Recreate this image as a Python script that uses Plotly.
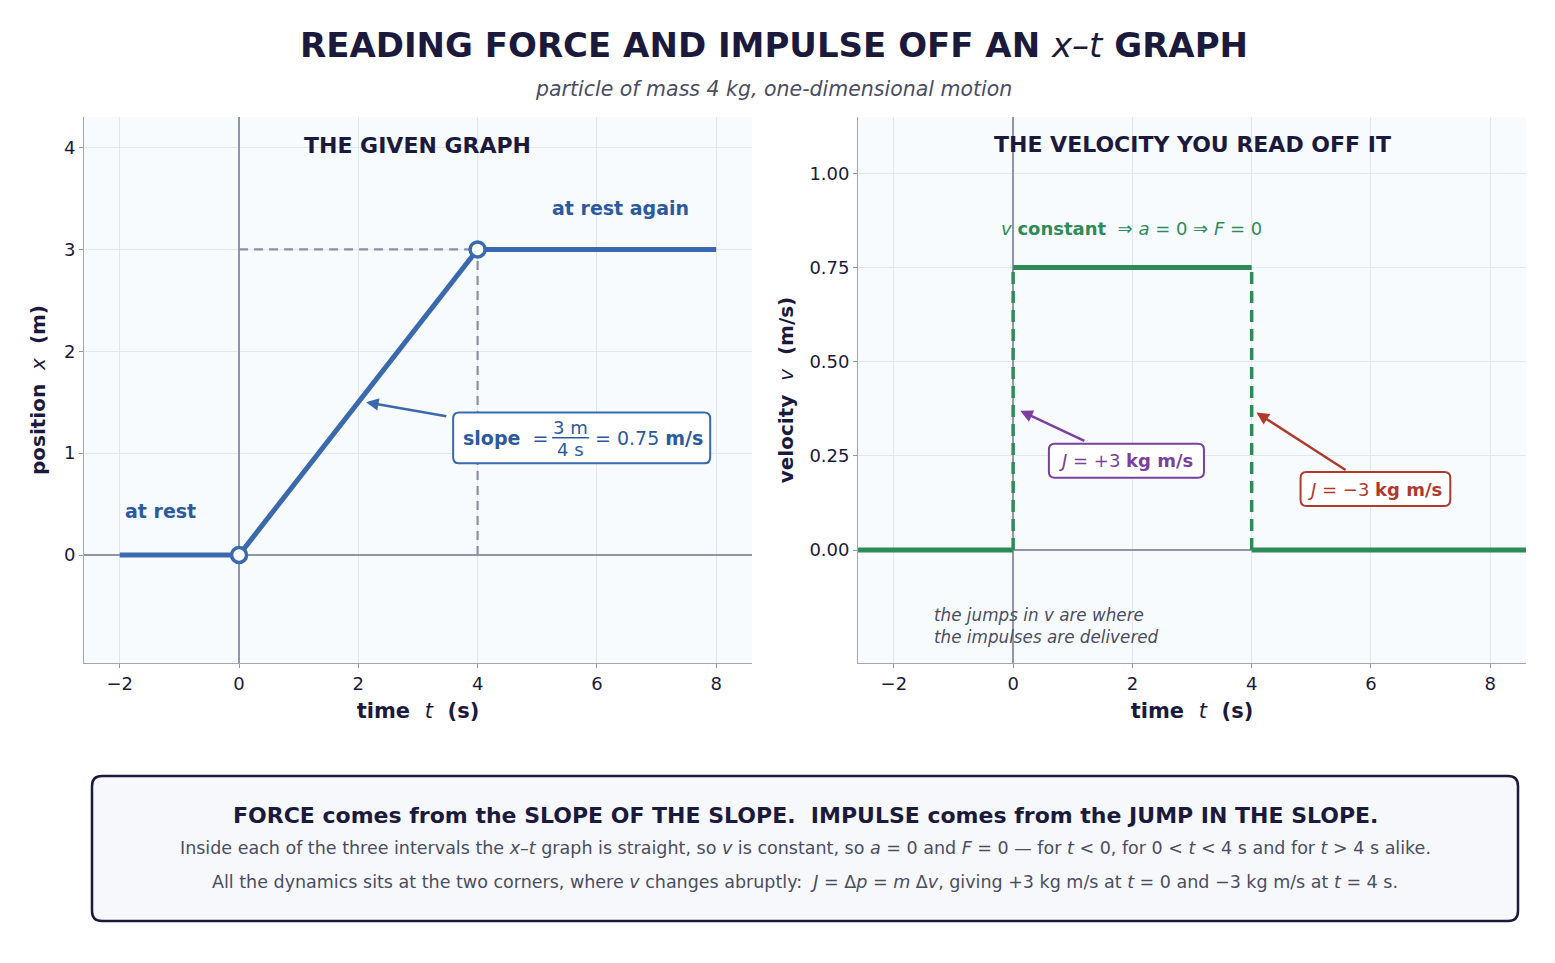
import plotly.graph_objects as go

# position-time data (piecewise straight)
t_pos = [-2, 0, 4, 8]
x_pos = [0, 0, 3, 3]
corner_t = [0, 4]
corner_x = [0, 3]

# velocity
v_rest1_t = [-2.6, 0]
v_rest1 = [0, 0]
v_move_t = [0, 4]
v_move = [0.75, 0.75]
v_rest2_t = [4, 8.6]
v_rest2 = [0, 0]
jump_t = [0, 4]

xticks = [-2, 0, 2, 4, 6, 8]
xticklabels = ["\u22122", "0", "2", "4", "6", "8"]
ytick_pos = [0, 1, 2, 3, 4]
ytick_vel = [0, 0.25, 0.5, 0.75, 1.0]

NAVY = "#1b1a3d"
BLUE = "#3a6aad"
BLUE_TXT = "#2c5a9e"
GREEN = "#2e8b57"
PURPLE = "#7b3fa0"
RED = "#b03a2e"
GREY = "#8a8fa8"
TXT_GREY = "#4a4d63"
FONT = "DejaVu Sans"


def rounded(x0, x1, y0, y1, rx, ry):
    return (f"M {x0+rx},{y1} L {x1-rx},{y1} Q {x1},{y1} {x1},{y1-ry} "
            f"L {x1},{y0+ry} Q {x1},{y0} {x1-rx},{y0} "
            f"L {x0+rx},{y0} Q {x0},{y0} {x0},{y0+ry} "
            f"L {x0},{y1-ry} Q {x0},{y1} {x0+rx},{y1} Z")


fig = go.Figure()

# left panel
fig.add_trace(go.Scatter(x=[0, 4], y=[3, 3], mode="lines", xaxis="x", yaxis="y",
                         line=dict(color=GREY, width=2.2, dash="9px,6px"), showlegend=False))
fig.add_trace(go.Scatter(x=[4, 4], y=[0, 3], mode="lines", xaxis="x", yaxis="y",
                         line=dict(color=GREY, width=2.2, dash="9px,6px"), showlegend=False))
fig.add_trace(go.Scatter(x=t_pos, y=x_pos, mode="lines", xaxis="x", yaxis="y",
                         line=dict(color=BLUE, width=5), showlegend=False))
fig.add_trace(go.Scatter(x=corner_t, y=corner_x, mode="markers", xaxis="x", yaxis="y",
                         marker=dict(color="white", size=15, line=dict(color=BLUE, width=3.5)),
                         showlegend=False))

# right panel
for jt in jump_t:
    fig.add_trace(go.Scatter(x=[jt, jt], y=[0, 0.75], mode="lines", xaxis="x2", yaxis="y2",
                             line=dict(color=GREEN, width=3.5, dash="12px,7px"), showlegend=False))
for tt, vv in [(v_rest1_t, v_rest1), (v_move_t, v_move), (v_rest2_t, v_rest2)]:
    fig.add_trace(go.Scatter(x=tt, y=vv, mode="lines", xaxis="x2", yaxis="y2",
                             line=dict(color=GREEN, width=5), showlegend=False))

axis_common = dict(
    range=[-2.6, 8.6], tickvals=xticks, ticktext=xticklabels,
    showgrid=True, gridcolor="#e1e7ee", gridwidth=1.2,
    zeroline=True, zerolinecolor="#8f96a8", zerolinewidth=1.5,
    showline=True, linecolor="#a0a6b6", linewidth=1,
    ticks="outside", ticklen=4, tickcolor="#8f96a8",
    tickfont=dict(size=18, color=NAVY, family=FONT),
)

fig.update_layout(
    width=1555, height=963,
    paper_bgcolor="white", plot_bgcolor="#f8fbfe",
    margin=dict(l=76, r=37, t=109, b=308),
    font=dict(family=FONT, color=NAVY),
    showlegend=False,
    xaxis=dict(axis_common, domain=[0, 0.4632], anchor="y",
               title=dict(text="<b>time  </b><i>t</i><b>  (s)</b>", font=dict(size=21), standoff=10)),
    yaxis=dict(axis_common, range=[-1.06, 4.3], tickvals=ytick_pos, ticktext=[str(v) for v in ytick_pos],
               domain=[0, 1], anchor="x",
               title=dict(text="<b>position  </b><i>x</i><b>  (m)</b>", font=dict(size=20), standoff=12)),
    xaxis2=dict(axis_common, domain=[0.5368, 1], anchor="y2",
                title=dict(text="<b>time  </b><i>t</i><b>  (s)</b>", font=dict(size=21), standoff=10)),
    yaxis2=dict(axis_common, range=[-0.3, 1.15], tickvals=ytick_vel,
                ticktext=["%.2f" % v for v in ytick_vel], domain=[0, 1], anchor="x2",
                title=dict(text="<b>velocity  </b><i>v</i><b>  (m/s)</b>", font=dict(size=20), standoff=10)),
)

ann = []
# title and subtitle
ann.append(dict(xref="paper", yref="paper", x=0.4785, y=1.0, yshift=72, yanchor="middle", showarrow=False,
                text="<b>READING FORCE AND IMPULSE OFF AN </b><i>x\u2013t</i><b> GRAPH</b>",
                font=dict(size=34, color=NAVY)))
ann.append(dict(xref="paper", yref="paper", x=0.4785, y=1.0, yshift=28, yanchor="middle", showarrow=False,
                text="<i>particle of mass 4 kg, one-dimensional motion</i>",
                font=dict(size=20.5, color=TXT_GREY)))
# left panel texts
ann.append(dict(xref="x", yref="y", x=3.0, y=4.02, yanchor="middle", showarrow=False,
                text="<b>THE GIVEN GRAPH</b>", font=dict(size=22, color=NAVY)))
ann.append(dict(xref="x", yref="y", x=-1.95, y=0.43, yanchor="middle", showarrow=False, xanchor="left",
                text="<b>at rest</b>", font=dict(size=19, color=BLUE_TXT)))
ann.append(dict(xref="x", yref="y", x=6.4, y=3.41, yanchor="middle", showarrow=False,
                text="<b>at rest again</b>", font=dict(size=19, color=BLUE_TXT)))
ann.append(dict(xref="x", yref="y", x=2.13, y=1.5, ax=3.5, ay=1.36, axref="x", ayref="y",
                showarrow=True, arrowhead=2, arrowsize=1, arrowwidth=2.5, arrowcolor=BLUE,
                text="", standoff=0))
# slope box: label, stacked fraction, result
ann.append(dict(xref="x", yref="y", x=3.72, y=1.15, xanchor="left", yanchor="middle", showarrow=False,
                text="<b>slope</b>  =", font=dict(size=19, color=BLUE_TXT)))
ann.append(dict(xref="x", yref="y", x=5.56, y=1.25, yanchor="middle", showarrow=False,
                text="3 m", font=dict(size=18, color=BLUE_TXT)))
ann.append(dict(xref="x", yref="y", x=5.56, y=1.04, yanchor="middle", showarrow=False,
                text="4 s", font=dict(size=18, color=BLUE_TXT)))
ann.append(dict(xref="x", yref="y", x=5.93, y=1.15, xanchor="left", yanchor="middle", showarrow=False,
                text="= 0.75 <b>m/s</b>", font=dict(size=19, color=BLUE_TXT)))
# right panel texts
ann.append(dict(xref="x2", yref="y2", x=3.0, y=1.077, yanchor="middle", showarrow=False,
                text="<b>THE VELOCITY YOU READ OFF IT</b>", font=dict(size=22, color=NAVY)))
ann.append(dict(xref="x2", yref="y2", x=-0.23, y=0.855, yanchor="middle", showarrow=False, xanchor="left",
                text="<i>v</i> <b>constant</b>  \u21d2 <i>a</i> = 0 \u21d2 <i>F</i> = 0",
                font=dict(size=18, color=GREEN)))
ann.append(dict(xref="x2", yref="y2", x=0.12, y=0.37, ax=1.22, ay=0.288, axref="x2", ayref="y2",
                showarrow=True, arrowhead=2, arrowsize=1, arrowwidth=2.5, arrowcolor=PURPLE,
                text="", standoff=0))
ann.append(dict(xref="x2", yref="y2", x=1.9, y=0.237, yanchor="middle", showarrow=False,
                text="<i>J</i> = +3 <b>kg m/s</b>", font=dict(size=18, color=PURPLE)))
ann.append(dict(xref="x2", yref="y2", x=4.08, y=0.365, ax=5.6, ay=0.21, axref="x2", ayref="y2",
                showarrow=True, arrowhead=2, arrowsize=1, arrowwidth=2.5, arrowcolor=RED,
                text="", standoff=0))
ann.append(dict(xref="x2", yref="y2", x=6.06, y=0.162, yanchor="middle", showarrow=False,
                text="<i>J</i> = \u22123 <b>kg m/s</b>", font=dict(size=18, color=RED)))
ann.append(dict(xref="x2", yref="y2", x=-1.36, y=-0.202, yanchor="middle", showarrow=False, xanchor="left",
                align="left",
                text="<i>the jumps in v are where<br>the impulses are delivered</i>",
                font=dict(size=16.8, color=TXT_GREY)))

# bottom summary box
ann.append(dict(xref="paper", yref="paper", x=0.5, y=-0.2802, yanchor="middle", showarrow=False,
                text="<b>FORCE comes from the SLOPE OF THE SLOPE.  IMPULSE comes from the JUMP IN THE SLOPE.</b>",
                font=dict(size=22, color=NAVY)))
ann.append(dict(xref="paper", yref="paper", x=0.5, y=-0.3388, yanchor="middle", showarrow=False,
                text="Inside each of the three intervals the <i>x</i>\u2013<i>t</i> graph is straight, so <i>v</i> is constant, "
                     "so <i>a</i> = 0 and <i>F</i> = 0 \u2014 for <i>t</i> &lt; 0, for 0 &lt; <i>t</i> &lt; 4 s and for <i>t</i> &gt; 4 s alike.",
                font=dict(size=17.5, color=TXT_GREY)))
ann.append(dict(xref="paper", yref="paper", x=0.5, y=-0.4011, yanchor="middle", showarrow=False,
                text="All the dynamics sits at the two corners, where <i>v</i> changes abruptly:  <i>J</i> = \u0394<i>p</i> = <i>m</i> \u0394<i>v</i>, "
                     "giving +3 kg m/s at <i>t</i> = 0 and \u22123 kg m/s at <i>t</i> = 4 s.",
                font=dict(size=17.5, color=TXT_GREY)))
fig.update_layout(annotations=ann)

# rounded boxes
fig.add_shape(type="path", xref="x", yref="y",
              path=rounded(3.59, 7.90, 0.90, 1.40, 0.1, 0.06),
              fillcolor="white", line=dict(color=BLUE, width=2), layer="above")
fig.add_shape(type="line", xref="x", yref="y", x0=5.25, x1=5.87, y0=1.152, y1=1.152,
              line=dict(color=BLUE_TXT, width=1.5), layer="above")
fig.add_shape(type="path", xref="x2", yref="y2",
              path=rounded(0.6, 3.2, 0.192, 0.282, 0.1, 0.016),
              fillcolor="white", line=dict(color=PURPLE, width=2), layer="above")
fig.add_shape(type="path", xref="x2", yref="y2",
              path=rounded(4.82, 7.33, 0.117, 0.207, 0.1, 0.016),
              fillcolor="white", line=dict(color=RED, width=2), layer="above")

x0, x1 = 8 / 1442, 1434 / 1442
y0, y1 = -258 / 546, -113 / 546
fig.add_shape(type="path", path=rounded(x0, x1, y0, y1, 10 / 1442, 10 / 546),
              xref="paper", yref="paper",
              fillcolor="#f6f8fc", line=dict(color=NAVY, width=2.5), layer="below")

fig.write_html("out.html")
